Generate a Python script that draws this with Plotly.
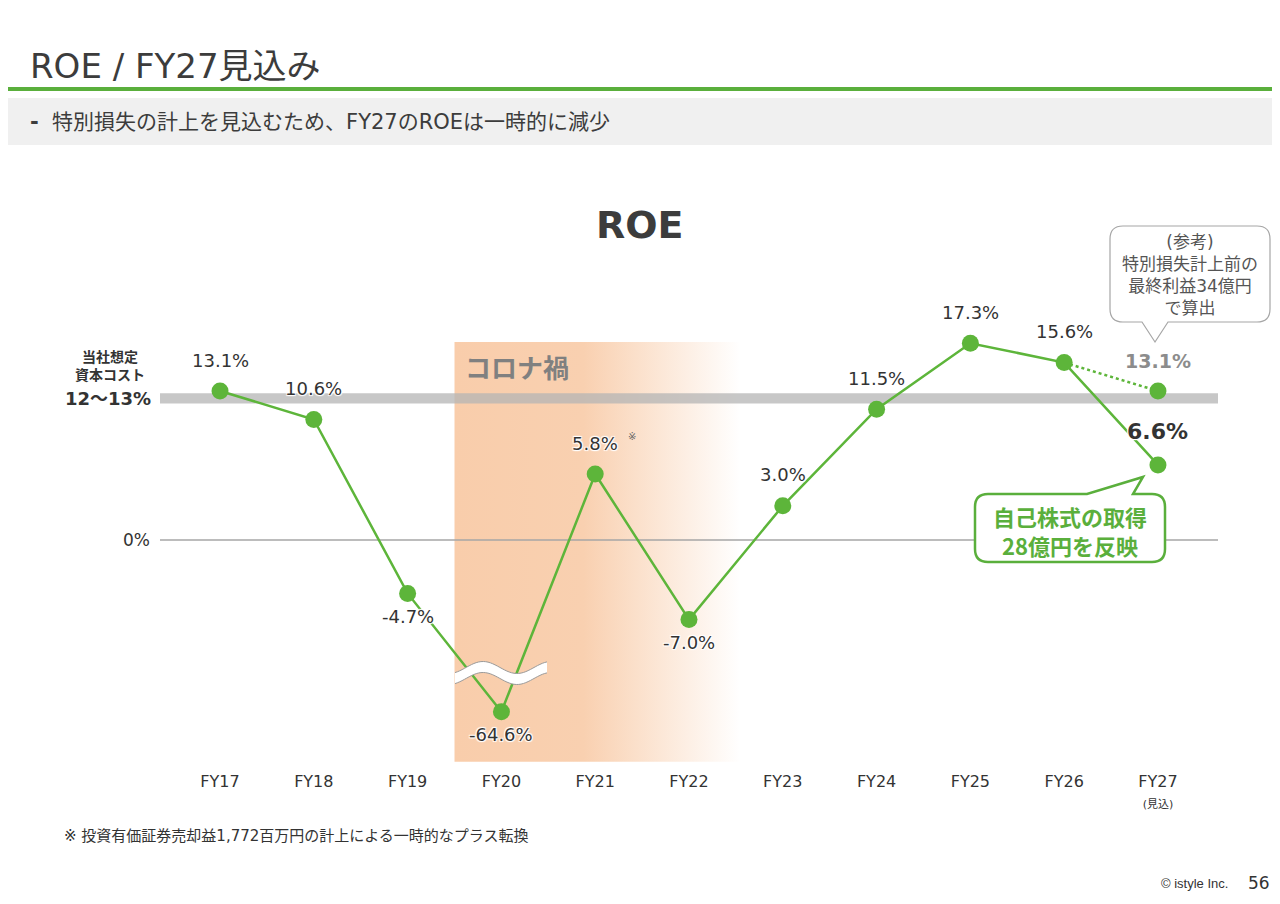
import numpy as np
import plotly.graph_objects as go

# data
years = ["FY17", "FY18", "FY19", "FY20", "FY21", "FY22", "FY23", "FY24", "FY25", "FY26", "FY27"]
roe = [13.1, 10.6, -4.7, -64.6, 5.8, -7.0, 3.0, 11.5, 17.3, 15.6, 6.6]
roe_fy27_reference = 13.1          # before special loss
cost_of_capital = [12, 13]
covid_years = ["FY20", "FY22"]
break_floor = -15.1                # values below are drawn at this level (broken axis)

# page offset (html body margin) -> work in screen pixels
OFF = 8
W, H = 1280 - OFF, 904 - OFF
GREEN = "#5db53a"
DARK = "#333333"
FONT = "DejaVu Sans, Noto Sans CJK JP"
JP = "Noto Sans CJK JP"
HALO = "1px 1px 1px white, -1px -1px 1px white, 1px -1px 1px white, -1px 1px 1px white"

# plot area in screen pixels
PX_L, PX_R, PX_T, PX_B = 160, 1218, 230, 770
Y_RANGE = [-20.23, 27.26]
X_RANGE = [-0.64, 10.64]


def px(x):
    return (x - OFF) / W


def py(y):
    return 1 - (y - OFF) / H


def rounded_callout(x0, y0, x1, y1, r, ptr):
    # ptr = (side, base_a, tip_x, tip_y, base_b)
    side, ba, tx, ty, bb = ptr
    p = f"M {px(x0 + r)} {py(y0)} "
    if side == "top":
        p += f"L {px(ba)} {py(y0)} L {px(tx)} {py(ty)} L {px(bb)} {py(y0)} "
    p += f"L {px(x1 - r)} {py(y0)} Q {px(x1)} {py(y0)} {px(x1)} {py(y0 + r)} "
    p += f"L {px(x1)} {py(y1 - r)} Q {px(x1)} {py(y1)} {px(x1 - r)} {py(y1)} "
    if side == "bottom":
        p += f"L {px(bb)} {py(y1)} L {px(tx)} {py(ty)} L {px(ba)} {py(y1)} "
    p += f"L {px(x0 + r)} {py(y1)} Q {px(x0)} {py(y1)} {px(x0)} {py(y1 - r)} "
    p += f"L {px(x0)} {py(y0 + r)} Q {px(x0)} {py(y0)} {px(x0 + r)} {py(y0)} Z"
    return p


def text(x, y, s, size, color=DARK, family=FONT, bold=False, xanchor="center", **kw):
    font = dict(size=size, color=color, family=family)
    if bold:
        font["weight"] = "bold"
    return dict(x=px(x), y=py(y), xref="paper", yref="paper", text=s, showarrow=False,
                xanchor=xanchor, yanchor="middle", font=font, **kw)


xi = list(range(len(years)))
roe_plot = [max(v, break_floor) for v in roe]

fig = go.Figure()

# コロナ禍 band with horizontal fade
c0 = years.index(covid_years[0]) - 0.5
c1 = years.index(covid_years[1]) + 0.55
fig.add_trace(go.Scatter(
    x=[c0, c1, c1, c0, c0], y=[-19.5, -19.5, 17.4, 17.4, -19.5],
    mode="lines", line=dict(width=0), fill="toself",
    fillgradient=dict(type="horizontal",
                      colorscale=[[0, "#f9cdab"], [0.45, "#f9d0b0"], [1, "#ffffff"]]),
    hoverinfo="skip", showlegend=False))

# cost of capital band
fig.add_trace(go.Scatter(
    x=[X_RANGE[0], X_RANGE[1], X_RANGE[1], X_RANGE[0], X_RANGE[0]],
    y=[cost_of_capital[0], cost_of_capital[0], cost_of_capital[1] - 0.1, cost_of_capital[1] - 0.1, cost_of_capital[0]],
    mode="lines", line=dict(width=0), fill="toself", fillcolor="rgba(180,180,180,0.75)",
    hoverinfo="skip", showlegend=False))

# zero line
fig.add_trace(go.Scatter(x=X_RANGE, y=[0, 0], mode="lines",
                         line=dict(color="#a6a6a6", width=1.5), hoverinfo="skip", showlegend=False))

# dotted reference line FY26 -> FY27 (before special loss)
fig.add_trace(go.Scatter(x=[xi[-2], xi[-1]], y=[roe[-2], roe_fy27_reference], mode="lines",
                         line=dict(color=GREEN, width=2.5, dash="dot"), showlegend=False))
fig.add_trace(go.Scatter(x=[xi[-1]], y=[roe_fy27_reference], mode="markers",
                         marker=dict(size=17, color=GREEN), showlegend=False))

# ROE line
fig.add_trace(go.Scatter(x=xi, y=roe_plot, mode="lines+markers",
                         line=dict(color=GREEN, width=2.5),
                         marker=dict(size=17, color=GREEN), showlegend=False))

ann = []
# value labels
for i, v in enumerate(roe):
    if i == len(roe) - 1:
        continue
    ann.append(dict(x=i, y=roe_plot[i], xref="x", yref="y", text=f"{v:.1f}%", showarrow=False,
                    yanchor="middle", yshift=31 if v >= 0 else -23,
                    font=dict(size=18, color=DARK, family=FONT, shadow=HALO)))
ann.append(dict(x=xi[-1], y=roe_fy27_reference, xref="x", yref="y", text=f"{roe_fy27_reference:.1f}%",
                showarrow=False, yanchor="middle", yshift=30,
                font=dict(size=19, color="#8c8c8c", family=FONT, weight="bold")))
ann.append(dict(x=xi[-1], y=roe[-1], xref="x", yref="y", text=f"{roe[-1]:.1f}%",
                showarrow=False, yanchor="middle", yshift=33,
                font=dict(size=22, color=DARK, family=FONT, weight="bold", shadow=HALO)))
ann.append(dict(x=years.index("FY21"), y=roe[years.index("FY21")], xref="x", yref="y", text="※",
                showarrow=False, yanchor="middle", xshift=37, yshift=38,
                font=dict(size=10, color="#666", family=FONT)))

ann += [
    text(28, 66, "ROE / FY27見込み", 34, color="#3c3c3c", xanchor="left"),
    text(28, 122, "<b>-</b>  特別損失の計上を見込むため、FY27のROEは一時的に減少", 21,
         color="#3c3c3c", xanchor="left"),
    text(640, 225, "ROE", 38, color="#3c3c3c", bold=True),
    text(463, 366, "コロナ禍", 26, color="#808080", family=JP, bold=True, xanchor="left"),
    text(110, 365, "当社想定<br>資本コスト", 14, family=JP, bold=True),
    text(108, 398, f"{cost_of_capital[0]}〜{cost_of_capital[1]}%", 18, bold=True),
    text(152, 540, "0%", 17, xanchor="right"),
    text(1190, 275, "(参考)<br>特別損失計上前の<br>最終利益34億円<br>で算出", 17, color="#555555"),
    text(1070, 530, "自己株式の取得<br>28億円を反映", 22, color="#5aaf3c", family=JP, bold=True),
    text(62, 836, "※ 投資有価証券売却益1,772百万円の計上による一時的なプラス転換", 15, xanchor="left"),
    text(1230, 883, "© istyle Inc.", 13, family="Liberation Sans", xanchor="right"),
    text(1272, 883, "56", 17, xanchor="right"),
]

shapes = [
    dict(type="rect", xref="paper", yref="paper", x0=px(0), x1=1, y0=py(91), y1=py(87),
         fillcolor="#5aaf3c", line=dict(width=0)),
    dict(type="rect", xref="paper", yref="paper", x0=px(0), x1=1, y0=py(145), y1=py(98),
         fillcolor="#f0f0f0", line=dict(width=0), layer="below"),
    dict(type="path", xref="paper", yref="paper",
         path=rounded_callout(1110, 226, 1270, 322, 13, ("bottom", 1142, 1155, 342, 1168)),
         fillcolor="white", line=dict(color="#a6a6a6", width=1.2)),
    dict(type="path", xref="paper", yref="paper",
         path=rounded_callout(975, 494, 1165, 562, 13, ("top", 1087, 1143, 477, 1133)),
         fillcolor="white", line=dict(color="#5aaf3c", width=2.5)),
]

# axis break wave
wx = np.linspace(455, 547, 40)
wc = 673 - 6 * np.sin(2 * np.pi * (wx - 466) / 68)
top = [(px(a), py(b - 5.5)) for a, b in zip(wx, wc)]
bot = [(px(a), py(b + 5.5)) for a, b in zip(wx, wc)]
fill_path = "M " + " L ".join(f"{a} {b}" for a, b in top + bot[::-1]) + " Z"
shapes.append(dict(type="path", xref="paper", yref="paper", path=fill_path,
                   fillcolor="white", line=dict(width=0)))
for edge in (top, bot):
    shapes.append(dict(type="path", xref="paper", yref="paper",
                       path="M " + " L ".join(f"{a} {b}" for a, b in edge),
                       line=dict(color="#9a9a9a", width=1)))

ticktext = years[:-1] + ["FY27<br><span style='font-size:11px'>(見込)</span>"]

fig.update_layout(
    width=W, height=H, autosize=False,
    margin=dict(l=0, r=0, t=0, b=0),
    paper_bgcolor="white", plot_bgcolor="white",
    showlegend=False,
    annotations=ann, shapes=shapes,
    xaxis=dict(domain=[px(PX_L), px(PX_R)], range=X_RANGE, tickvals=xi, ticktext=ticktext,
               showgrid=False, zeroline=False, showline=False, ticks="",
               tickfont=dict(size=16, color=DARK, family=FONT), fixedrange=True),
    yaxis=dict(domain=[py(PX_B), py(PX_T)], range=Y_RANGE, showgrid=False, zeroline=False,
               showline=False, showticklabels=False, fixedrange=True),
)

fig.write_html("out.html")
